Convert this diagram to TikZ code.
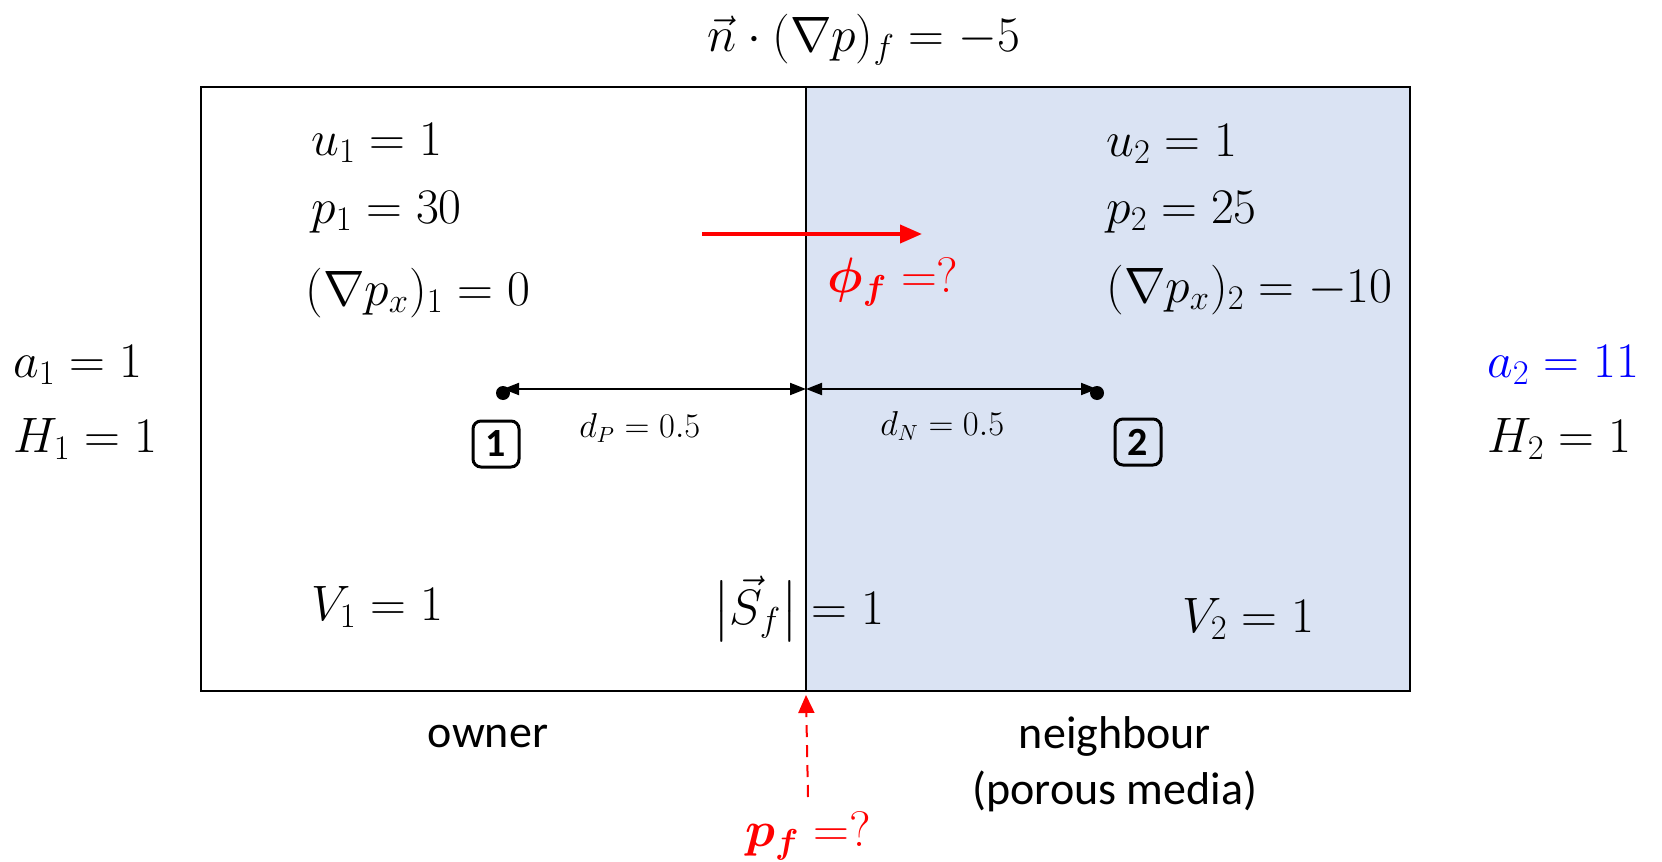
\documentclass[tikz,border=0pt]{standalone}
\usepackage{amsmath}
\usepackage{bm}
\usepackage{fontspec}
\setmainfont{Carlito}
\usetikzlibrary{arrows.meta}
\definecolor{media}{HTML}{DAE3F3}
\definecolor{myred}{HTML}{FF0000}
\definecolor{myblue}{HTML}{0000FF}
\tikzset{
  mlbl/.style={inner sep=0pt, anchor=base west, font=\fontsize{25}{30}\selectfont},
  slbl/.style={inner sep=0pt, anchor=base west, font=\fontsize{16}{19}\selectfont},
  txt/.style={inner sep=0pt, anchor=base, font=\fontsize{23}{28}\selectfont},
  cellbox/.style={draw, line width=1.5pt, rounded corners=4pt, minimum width=23pt, minimum height=23pt, inner sep=0pt, font=\fontsize{20}{22}\selectfont\bfseries},
  centre/.style={circle, fill=black, inner sep=0pt, minimum size=7pt},
  dimarrow/.style={line width=1pt, {Triangle[length=8pt,width=6pt]}-{Triangle[length=8pt,width=6pt]}},
  fluxarrow/.style={myred, line width=2pt, -{Triangle[length=11pt,width=9pt]}},
  pfarrow/.style={myred, line width=1pt, dash pattern=on 6pt off 4pt, -{Triangle[length=9pt,width=8pt]}},
}
\begin{document}
\begin{tikzpicture}[x=0.5pt,y=-0.5pt]
\useasboundingbox (0,0) rectangle (1662,862);
% cells
\fill[media] (806,87) rectangle (1410,691);
\draw[line width=1pt] (201,87) rectangle (1410,691);
\coordinate (mt) at (806,87);
\coordinate (mb) at (806,691);
\draw[line width=1pt] (mt) -- (mb);

% top label
\node[mlbl] (ngrad) at (707,51) {$\vec{n}\cdot(\nabla p)_f = -5$};

% owner values
\node[mlbl] (u1) at (311,155) {$u_1 = 1$};
\node[mlbl] (p1) at (311,223) {$p_1 = 30$};
\node[mlbl] (g1) at (305,305) {$(\nabla p_x)_1 = 0$};
% neighbour values
\node[mlbl] (u2) at (1106,156) {$u_2 = 1$};
\node[mlbl] (p2) at (1106,223) {$p_2 = 25$};
\node[mlbl] (g2) at (1106,302) {$(\nabla p_x)_2 = -10$};

% flux
\coordinate (fa) at (702,234);
\coordinate (fb) at (922,234);
\draw[fluxarrow] (fa) -- (fb);
\node[mlbl, text=myred] (phi) at (827,292) {$\bm{\phi_f} =?$};

% side coefficients
\node[mlbl] (a1) at (13,377) {$a_1 = 1$};
\node[mlbl] (H1) at (13,452) {$H_1 = 1$};
\node[mlbl, text=myblue] (a2) at (1487,377) {$a_2 = 11$};
\node[mlbl] (H2) at (1487,452) {$H_2 = 1$};

% centres and distances
\node[centre] (c1) at (503,393) {};
\node[centre] (c2) at (1097,393) {};
\coordinate (fm) at (806,389);
\draw[dimarrow] (c1.center |- fm) -- (fm);
\draw[dimarrow] (fm) -- (c2.center |- fm);
\node[slbl] (dP) at (579,437) {$d_P = 0.5$};
\node[slbl] (dN) at (880,435) {$d_N = 0.5$};
\node[cellbox] (n1) at (496,444) {1};
\node[cellbox] (n2) at (1138,442) {2};

% volumes and face
\node[mlbl] (V1) at (311,620) {$V_1 = 1$};
\node[mlbl] (Sf) at (713,624) {$\bigl|\vec{S}_f\bigr| = 1$};
\node[mlbl] (V2) at (1182,632) {$V_2 = 1$};

% labels below
\node[txt] (own) at (488,747) {owner};
\node[txt, align=center, anchor=north] (nb) at (1115,716) {neighbour\\(porous media)};

% face pressure
\node[mlbl, anchor=base, text=myred] (pf) at (808,846) {$\bm{p_f} =?$};
\coordinate (pfstart) at (808,797);
\coordinate (pfend) at (806,695);
\draw[pfarrow] (pfstart) -- (pfend);
\end{tikzpicture}
\end{document}
